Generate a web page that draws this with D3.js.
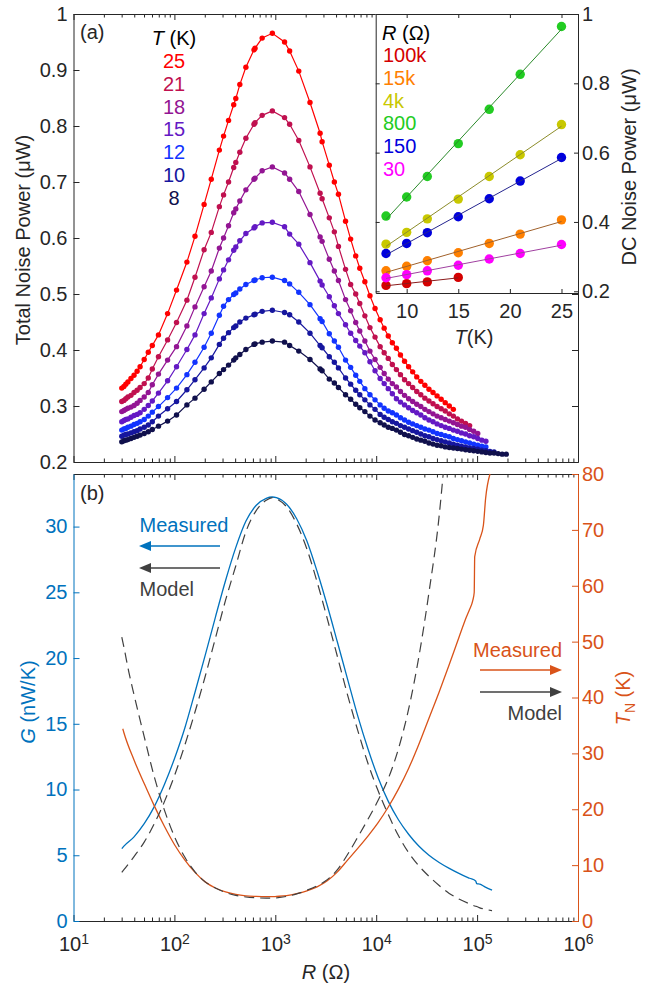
<!DOCTYPE html>
<html>
<head>
<meta charset="utf-8">
<script src="https://cdn.jsdelivr.net/npm/d3@7"></script>
<style>
  body { margin: 0; background: #fff; }
  svg text { font-family: "Liberation Sans", Arial, Helvetica, sans-serif; }
</style>
</head>
<body>
<svg id="fig" width="662" height="988"></svg>
<script>
// ---------- (a) total noise power vs. resistance, one series per bath temperature ----------
const temperatures = [25, 21, 18, 15, 12, 10, 8];
const temperatureColors = ["#ff0000", "#c0104f", "#931593", "#6419c4", "#1234ff", "#16169e", "#10104c"];

// resistance of every measured point (ohm)
const resistance = [30.1, 31.6, 33.0, 34.6, 37.1, 39.8, 42.7, 45.7, 50.2, 55.1, 60.4,
  69.5, 85.6, 105, 133, 160, 197, 232, 279, 307, 344, 387, 406, 445, 511, 615, 630, 741, 935,
  1235, 1387, 1709, 2207, 2780, 2911, 3428, 3848, 4225, 4969, 5580, 6266, 6874, 7723, 8670, 9740,
  10940, 12000, 13170, 14450, 15860, 17400, 19090, 20950, 22990, 25230, 27680, 30370, 33330, 36570,
  40120, 44030, 48310, 53010, 58170, 63830, 70040, 76850, 84330, 92530, 101500, 111400, 122200,
  134100, 147200, 161500, 177200, 194500];

// total noise power (uW); each series stops where its sweep ended
const noiseT25 = [0.332, 0.335, 0.339, 0.343, 0.349, 0.355, 0.362, 0.370, 0.383, 0.396, 0.408,
  0.427, 0.465, 0.507, 0.557, 0.603, 0.660, 0.705, 0.757, 0.782, 0.810, 0.838, 0.849, 0.874, 0.905, 0.936, 0.939, 0.957, 0.9655,
  0.950, 0.934, 0.898, 0.842, 0.787, 0.772, 0.730, 0.700, 0.678, 0.630, 0.598, 0.568, 0.546, 0.522, 0.497, 0.474,
  0.454, 0.439, 0.425, 0.413, 0.403, 0.391, 0.380, 0.370, 0.361, 0.352, 0.344, 0.337, 0.330, 0.324, 0.318, 0.312, 0.306, 0.300, 0.294];
const noiseT21 = [0.308, 0.310, 0.313, 0.316, 0.319, 0.324, 0.328, 0.333, 0.340, 0.350, 0.366,
  0.388, 0.418, 0.449, 0.489, 0.530, 0.579, 0.610, 0.656, 0.677, 0.700, 0.726, 0.735, 0.753, 0.778, 0.803, 0.806, 0.819, 0.827,
  0.815, 0.803, 0.774, 0.727, 0.680, 0.670, 0.636, 0.611, 0.585, 0.544, 0.517, 0.500, 0.483, 0.461, 0.440, 0.423,
  0.406, 0.395, 0.385, 0.374, 0.365, 0.356, 0.347, 0.340, 0.333, 0.326, 0.320, 0.314, 0.309, 0.304, 0.299, 0.295, 0.291, 0.286, 0.282, 0.277, 0.273, 0.269, 0.265];
const noiseT18 = [0.290, 0.292, 0.294, 0.296, 0.298, 0.301, 0.305, 0.310, 0.316, 0.324, 0.338,
  0.357, 0.382, 0.406, 0.443, 0.477, 0.513, 0.541, 0.582, 0.600, 0.622, 0.645, 0.652, 0.666, 0.686, 0.705, 0.707, 0.720, 0.727,
  0.716, 0.705, 0.683, 0.642, 0.602, 0.594, 0.562, 0.541, 0.524, 0.490, 0.470, 0.449, 0.434, 0.416, 0.398, 0.383,
  0.369, 0.358, 0.348, 0.340, 0.334, 0.326, 0.319, 0.313, 0.308, 0.303, 0.299, 0.294, 0.290, 0.286, 0.282, 0.279, 0.276, 0.273, 0.270, 0.267, 0.264, 0.262, 0.258, 0.255, 0.251];
const noiseT15 = [0.272, 0.274, 0.276, 0.277, 0.280, 0.283, 0.285, 0.288, 0.294, 0.301, 0.309,
  0.323, 0.345, 0.370, 0.401, 0.427, 0.465, 0.493, 0.527, 0.543, 0.561, 0.578, 0.584, 0.595, 0.608, 0.618, 0.620, 0.627, 0.628,
  0.620, 0.607, 0.589, 0.556, 0.523, 0.516, 0.495, 0.479, 0.465, 0.445, 0.430, 0.417, 0.407, 0.395, 0.379, 0.363,
  0.349, 0.340, 0.331, 0.322, 0.313, 0.307, 0.302, 0.297, 0.292, 0.288, 0.284, 0.279, 0.275, 0.272, 0.268, 0.265, 0.262, 0.260, 0.257, 0.255, 0.252, 0.250, 0.247, 0.245, 0.242, 0.239, 0.237];
const noiseT12 = [0.257, 0.259, 0.260, 0.262, 0.264, 0.267, 0.269, 0.272, 0.276, 0.282, 0.289,
  0.299, 0.315, 0.332, 0.356, 0.378, 0.405, 0.430, 0.462, 0.478, 0.490, 0.499, 0.502, 0.509, 0.517, 0.524, 0.525, 0.529, 0.530,
  0.524, 0.518, 0.503, 0.481, 0.456, 0.451, 0.429, 0.416, 0.405, 0.382, 0.369, 0.355, 0.344, 0.331, 0.320, 0.311,
  0.302, 0.296, 0.291, 0.288, 0.284, 0.279, 0.275, 0.271, 0.268, 0.265, 0.262, 0.259, 0.257, 0.254, 0.251, 0.249, 0.247, 0.245, 0.242, 0.240, 0.238, 0.236, 0.234, 0.232, 0.230, 0.228, 0.227];
const noiseT10 = [0.246, 0.248, 0.249, 0.250, 0.252, 0.254, 0.256, 0.259, 0.262, 0.266, 0.272,
  0.282, 0.295, 0.308, 0.329, 0.347, 0.368, 0.386, 0.410, 0.421, 0.431, 0.440, 0.443, 0.450, 0.457, 0.463, 0.464, 0.469, 0.471,
  0.467, 0.463, 0.450, 0.430, 0.408, 0.404, 0.388, 0.378, 0.368, 0.350, 0.339, 0.328, 0.320, 0.311, 0.302, 0.294,
  0.285, 0.280, 0.276, 0.272, 0.269, 0.265, 0.262, 0.259, 0.256, 0.253, 0.250, 0.247, 0.245, 0.242, 0.240, 0.238, 0.236, 0.234, 0.232, 0.230, 0.228, 0.227, 0.225, 0.224, 0.223, 0.221, 0.220, 0.219, 0.218];
const noiseT8 = [0.236, 0.238, 0.239, 0.240, 0.242, 0.244, 0.246, 0.248, 0.251, 0.254, 0.258,
  0.264, 0.273, 0.284, 0.302, 0.314, 0.330, 0.343, 0.358, 0.365, 0.373, 0.382, 0.386, 0.392, 0.401, 0.410, 0.411, 0.414, 0.416,
  0.414, 0.408, 0.398, 0.383, 0.366, 0.363, 0.348, 0.341, 0.333, 0.320, 0.312, 0.303, 0.297, 0.290, 0.282, 0.275,
  0.270, 0.266, 0.262, 0.260, 0.257, 0.253, 0.249, 0.247, 0.244, 0.241, 0.239, 0.237, 0.234, 0.232, 0.230, 0.229, 0.227, 0.226, 0.225, 0.224, 0.223, 0.222, 0.221, 0.220, 0.219, 0.218, 0.217, 0.216, 0.216, 0.215, 0.214, 0.214];
const noiseSeries = [noiseT25, noiseT21, noiseT18, noiseT15, noiseT12, noiseT10, noiseT8];

// ---------- inset: DC noise power vs. temperature at fixed resistance ----------
const insetTemps = [8, 10, 12, 15, 18, 21, 25];
const insetLabels = ["100k", "15k", "4k", "800", "150", "30"];
const insetColors = ["#d40000", "#ff8000", "#c8c800", "#22cc22", "#0000dd", "#ff00ff"];
const insetFitColors = ["#8b1a1a", "#a0602a", "#8c8c2a", "#2a8a2a", "#24248f", "#a040a0"];
const dc100k = [0.217, 0.222, 0.227, 0.240];
const dc15k = [0.259, 0.272, 0.288, 0.311, 0.338, 0.365, 0.406];
const dc4k = [0.336, 0.370, 0.409, 0.466, 0.531, 0.594, 0.681];
const dc800 = [0.417, 0.472, 0.531, 0.626, 0.725, 0.826, 0.964];
const dc150 = [0.309, 0.338, 0.369, 0.415, 0.467, 0.518, 0.586];
const dc30 = [0.239, 0.248, 0.259, 0.275, 0.293, 0.309, 0.335];
const dcSeries = [dc100k, dc15k, dc4k, dc800, dc150, dc30];

// ---------- (b) thermal conductance G and noise temperature T_N ----------
const rG = [30.1, 31.6, 39.8, 50.2, 63.2, 79.8, 100.7, 127.1, 160.0, 201.8, 254.7, 321.4, 405.5, 510.5,
  644.2, 812.8, 933.3, 1026, 1294, 1629, 2056, 2594, 3273, 4130, 5200, 6561, 8279, 10450, 13180,
  16600, 20940, 26420, 33340, 42070, 52970, 66830, 84330, 96830, 99080, 106400, 119400, 140600];
const gMeasured = [5.5, 5.7, 6.4, 7.4, 8.7, 10.4, 12.4, 14.7, 17.4, 20.2, 23.1, 25.9, 28.4, 30.4,
  31.6, 32.15, 32.25, 32.2, 31.7, 30.6, 28.9, 26.6, 24.0, 21.2, 18.4, 15.6, 13.1, 10.9, 9.1,
  7.7, 6.6, 5.7, 5.0, 4.45, 4.0, 3.6, 3.25, 3.05, 2.85, 2.8, 2.6, 2.35];
const gModel = [3.7, 3.9, 4.9, 6.0, 7.4, 9.1, 11.1, 13.4, 15.9, 18.6, 21.5, 24.4, 27.0, 29.6,
  31.2, 32.0, 32.2, 32.1, 31.5, 30.2, 28.3, 25.8, 23.0, 20.1, 17.2, 14.5, 12.0, 9.9, 8.1,
  6.5, 5.2, 4.2, 3.4, 2.7, 2.1, 1.65, 1.3, 1.12, 1.1, 1.0, 0.9, 0.78];

const rTN = [30.8, 31.6, 39.8, 50.2, 63.2, 79.8, 100.7, 127.1, 160.0, 201.8, 254.7, 321.4, 405.5, 510.5,
  644.2, 812.8, 933.3, 1026, 1294, 1629, 2056, 2594, 3273, 4130, 5200, 6561, 8279, 10450, 13180,
  16600, 20940, 26420, 33340, 42070, 52970, 66830, 78650, 84330, 90410, 93620, 94700, 106400,
  115400, 121400, 134200];
const tnMeasured = [34.4, 33.7, 28.8, 24.6, 20.6, 16.9, 13.6, 10.9, 8.7, 7.0, 5.9, 5.2, 4.75, 4.5,
  4.4, 4.35, 4.35, 4.4, 4.55, 4.9, 5.4, 6.1, 7.2, 8.8, 10.9, 13.0, 15.2, 17.6, 20.4,
  23.6, 27.3, 31.6, 36.3, 41.0, 45.9, 51.0, 54.5, 55.8, 57.3, 58.8, 65.2, 68.4,
  70.8, 75.6, 80.0];

const rTNModel = [30.1, 31.6, 35.4, 39.8, 50.2, 63.2, 79.8, 100.7, 127.1, 160.0, 201.8, 254.7, 321.4,
  405.5, 510.5, 644.2, 812.8, 933.3, 1026, 1294, 1629, 2056, 2594, 3273, 4130, 5200, 6561, 8279,
  10450, 13180, 16600, 20940, 26420, 33340, 42070, 46120];
const tnModel = [50.8, 49.0, 44.5, 40.5, 33.0, 25.8, 19.8, 15.0, 11.4, 8.8, 7.0, 5.9, 5.1,
  4.6, 4.3, 4.15, 4.1, 4.1, 4.15, 4.4, 4.85, 5.5, 6.3, 7.4, 9.2, 11.9, 15.0, 18.2,
  21.6, 25.5, 30.8, 37.9, 47.2, 58.8, 72.5, 80.0];

// ---------- tick values ----------
const decades = [1e1, 1e2, 1e3, 1e4, 1e5, 1e6];
const minorR = [];
for (let e = 1; e < 6; e++) for (let m = 2; m <= 9; m++) minorR.push(m * Math.pow(10, e));
const noiseTicks = [0.2, 0.3, 0.4, 0.5, 0.6, 0.7, 0.8, 0.9, 1];
const insetTTicks = [10, 15, 20, 25];
const insetPTicks = [0.2, 0.4, 0.6, 0.8, 1];
const gTicks = [0, 5, 10, 15, 20, 25, 30];
const tnTicks = [0, 10, 20, 30, 40, 50, 60, 70, 80];

// ---------- layout ----------
const INK = "#262626";
const BLUE = "#0072bd";
const ORANGE = "#d95319";
const GREY = "#404040";
const FS = 20;

const svg = d3.select("#fig");
const x = d3.scaleLog().domain([10, 1e6]).range([73.5, 578]);
const yA = d3.scaleLinear().domain([0.2, 1]).range([462, 14]);
const yG = d3.scaleLinear().domain([0, 34]).range([921, 474]);
const yTN = d3.scaleLinear().domain([0, 80]).range([921, 474]);
const xIn = d3.scaleLinear().domain([7, 26.6]).range([375.7, 578]);
const yIn = d3.scaleLinear().domain([0.195, 1]).range([293, 14]);

function styleAxis(g, color) {
  g.attr("font-size", FS).attr("font-family", null);
  g.select(".domain").attr("stroke", color).attr("stroke-width", 1);
  g.selectAll(".tick line").attr("stroke", color).attr("stroke-width", 1);
  g.selectAll(".tick text").attr("fill", color);
}
function addAxis(axis, tx, ty, color) {
  const g = svg.append("g").attr("transform", `translate(${tx},${ty})`).call(axis);
  styleAxis(g, color);
  return g;
}
const fmtNoise = d => d === 1 ? "1" : d3.format(".1f")(d);

// ================= panel (a) =================
// log-R frame: minor and major ticks on bottom and top edges
addAxis(d3.axisBottom(x).tickValues(minorR).tickSize(-3.5).tickSizeOuter(0).tickFormat(""), 0, 462, INK);
addAxis(d3.axisBottom(x).tickValues(decades).tickSize(-6).tickSizeOuter(0).tickFormat(""), 0, 462, INK);
addAxis(d3.axisTop(x).tickValues(minorR).tickSize(-3.5).tickSizeOuter(0).tickFormat(""), 0, 14, INK);
addAxis(d3.axisTop(x).tickValues(decades).tickSize(-6).tickSizeOuter(0).tickFormat(""), 0, 14, INK);
addAxis(d3.axisLeft(yA).tickValues(noiseTicks).tickSize(-6).tickSizeOuter(0).tickPadding(6).tickFormat(fmtNoise), 73.5, 0, INK);
addAxis(d3.axisRight(yA).tickValues(noiseTicks).tickSize(-6).tickSizeOuter(0).tickFormat(""), 578, 0, INK);

const lineA = d3.line().x(d => x(d[0])).y(d => yA(d[1]));
const curves = svg.append("g");
noiseSeries.forEach((vals, i) => {
  const pts = vals.map((v, k) => [resistance[k], v]);
  const g = curves.append("g");
  g.append("path").attr("d", lineA(pts)).attr("fill", "none")
    .attr("stroke", temperatureColors[i]).attr("stroke-width", 1.2);
  g.selectAll("circle").data(pts).join("circle")
    .attr("cx", d => x(d[0])).attr("cy", d => yA(d[1])).attr("r", 2.7)
    .attr("fill", temperatureColors[i]);
});

svg.append("text").attr("x", 80).attr("y", 39).attr("font-size", FS).attr("fill", INK).text("(a)");
const tHead = svg.append("text").attr("x", 174).attr("y", 45).attr("text-anchor", "middle")
  .attr("font-size", FS).attr("fill", "#000");
tHead.append("tspan").attr("font-style", "italic").text("T");
tHead.append("tspan").text(" (K)");
temperatures.forEach((t, i) => {
  svg.append("text").attr("x", 174).attr("y", 68 + i * 22.8).attr("text-anchor", "middle")
    .attr("font-size", FS).attr("fill", temperatureColors[i]).text(t);
});

svg.append("text").attr("transform", "translate(30,240) rotate(-90)").attr("text-anchor", "middle")
  .attr("font-size", FS).attr("fill", INK).text("Total Noise Power (\u03bcW)");

// ================= inset =================
svg.append("rect").attr("x", 375.7).attr("y", 14).attr("width", 578 - 375.7).attr("height", 293 - 14)
  .attr("fill", "#fff");
addAxis(d3.axisBottom(xIn).tickValues(insetTTicks).tickSize(-4).tickSizeOuter(0).tickPadding(11), 0, 293, INK);
addAxis(d3.axisTop(xIn).tickValues(insetTTicks).tickSize(-4).tickSizeOuter(0).tickFormat(""), 0, 14, INK);
addAxis(d3.axisLeft(yIn).tickValues(insetPTicks).tickSize(-4).tickSizeOuter(0).tickFormat(""), 375.7, 0, INK);
addAxis(d3.axisRight(yIn).tickValues(insetPTicks).tickSize(-4).tickSizeOuter(0).tickPadding(4).tickFormat(fmtNoise), 578, 0, INK);

const lineIn = d3.line().x(d => xIn(d[0])).y(d => yIn(d[1]));
dcSeries.forEach((vals, i) => {
  const pts = vals.map((v, k) => [insetTemps[k], v]);
  svg.append("g").selectAll("circle").data(pts).join("circle")
    .attr("cx", d => xIn(d[0])).attr("cy", d => yIn(d[1])).attr("r", 4.7)
    .attr("fill", insetColors[i]);
  // least-squares straight line through the points
  const mt = d3.mean(pts, d => d[0]), mp = d3.mean(pts, d => d[1]);
  const slope = d3.sum(pts, d => (d[0] - mt) * (d[1] - mp)) / d3.sum(pts, d => (d[0] - mt) ** 2);
  const t0 = pts[0][0], t1 = pts[pts.length - 1][0];
  svg.append("path").attr("d", lineIn([[t0, mp + slope * (t0 - mt)], [t1, mp + slope * (t1 - mt)]]))
    .attr("fill", "none").attr("stroke", insetFitColors[i]).attr("stroke-width", 1);
});

const rHead = svg.append("text").attr("x", 382).attr("y", 40).attr("font-size", FS).attr("fill", "#000");
rHead.append("tspan").attr("font-style", "italic").text("R");
rHead.append("tspan").text(" (\u03a9)");
insetLabels.forEach((lab, i) => {
  svg.append("text").attr("x", 383).attr("y", 62 + i * 22.8).attr("font-size", FS)
    .attr("fill", insetColors[i]).text(lab);
});
const tAx = svg.append("text").attr("x", 474).attr("y", 344).attr("text-anchor", "middle")
  .attr("font-size", FS).attr("fill", INK);
tAx.append("tspan").attr("font-style", "italic").text("T");
tAx.append("tspan").text("(K)");
svg.append("text").attr("transform", "translate(636,167) rotate(-90)").attr("text-anchor", "middle")
  .attr("font-size", FS).attr("fill", INK).text("DC Noise Power (\u03bcW)");

// ================= panel (b) =================
addAxis(d3.axisTop(x).tickValues(minorR).tickSize(-3.5).tickSizeOuter(0).tickFormat(""), 0, 474, INK);
addAxis(d3.axisTop(x).tickValues(decades).tickSize(-6).tickSizeOuter(0).tickFormat(""), 0, 474, INK);
addAxis(d3.axisBottom(x).tickValues(minorR).tickSize(-3.5).tickSizeOuter(0).tickFormat(""), 0, 921, INK);
const xb = addAxis(d3.axisBottom(x).tickValues(decades).tickSize(-6).tickSizeOuter(0).tickPadding(16), 0, 921, INK);
xb.selectAll(".tick text").text(null).each(function (d) {
  const t = d3.select(this);
  t.append("tspan").text("10");
  t.append("tspan").attr("dy", "-0.5em").attr("font-size", 14).text(Math.round(Math.log10(d)));
});
addAxis(d3.axisLeft(yG).tickValues(gTicks).tickSize(-6).tickSizeOuter(0).tickPadding(6), 73.5, 0, BLUE);
addAxis(d3.axisRight(yTN).tickValues(tnTicks).tickSize(-6).tickSizeOuter(0).tickPadding(4), 578, 0, ORANGE);

const lineG = d3.line().x(d => x(d[0])).y(d => yG(d[1])).curve(d3.curveMonotoneX);
const lineTN = d3.line().x(d => x(d[0])).y(d => yTN(d[1])).curve(d3.curveMonotoneX);
svg.append("path").attr("d", lineG(d3.zip(rG, gMeasured))).attr("fill", "none")
  .attr("stroke", BLUE).attr("stroke-width", 1.3);
svg.append("path").attr("d", lineTN(d3.zip(rTN, tnMeasured))).attr("fill", "none")
  .attr("stroke", ORANGE).attr("stroke-width", 1.3);
svg.append("path").attr("d", lineG(d3.zip(rG, gModel))).attr("fill", "none")
  .attr("stroke", GREY).attr("stroke-width", 1.2).attr("stroke-dasharray", "10,6");
svg.append("path").attr("d", lineTN(d3.zip(rTNModel, tnModel))).attr("fill", "none")
  .attr("stroke", GREY).attr("stroke-width", 1.2).attr("stroke-dasharray", "10,6");

svg.append("text").attr("x", 80).attr("y", 500).attr("font-size", FS).attr("fill", INK).text("(b)");

// arrows pointing to the axis each curve belongs to
function arrow(x0, x1, y, color) {
  const dir = Math.sign(x1 - x0);
  svg.append("line").attr("x1", x0).attr("x2", x1 - dir * 8).attr("y1", y).attr("y2", y)
    .attr("stroke", color).attr("stroke-width", 1.5);
  svg.append("path").attr("d", `M${x1},${y} L${x1 - dir * 12},${y - 5} L${x1 - dir * 12},${y + 5} Z`)
    .attr("fill", color);
}
svg.append("text").attr("x", 139.5).attr("y", 532).attr("font-size", FS).attr("fill", BLUE).text("Measured");
arrow(220, 139, 546, BLUE);
arrow(220, 139, 568, GREY);
svg.append("text").attr("x", 139.5).attr("y", 596).attr("font-size", FS).attr("fill", GREY).text("Model");

svg.append("text").attr("x", 562).attr("y", 657).attr("text-anchor", "end").attr("font-size", FS)
  .attr("fill", ORANGE).text("Measured");
arrow(480, 562, 670, ORANGE);
arrow(480, 562, 692, GREY);
svg.append("text").attr("x", 562).attr("y", 720).attr("text-anchor", "end").attr("font-size", FS)
  .attr("fill", GREY).text("Model");

const gLab = svg.append("text").attr("transform", "translate(35,702) rotate(-90)").attr("text-anchor", "middle")
  .attr("font-size", FS).attr("fill", BLUE);
gLab.append("tspan").attr("font-style", "italic").text("G");
gLab.append("tspan").text(" (nW/K)");

const tnLab = svg.append("text").attr("transform", "translate(630,698) rotate(-90)").attr("text-anchor", "middle")
  .attr("font-size", FS).attr("fill", ORANGE);
tnLab.append("tspan").attr("font-style", "italic").text("T");
tnLab.append("tspan").attr("font-size", 14).attr("dy", 5).text("N");
tnLab.append("tspan").attr("dy", -5).text(" (K)");

const rLab = svg.append("text").attr("x", 326).attr("y", 979).attr("text-anchor", "middle")
  .attr("font-size", FS).attr("fill", INK);
rLab.append("tspan").attr("font-style", "italic").text("R");
rLab.append("tspan").text(" (\u03a9)");
</script>
</body>
</html>
